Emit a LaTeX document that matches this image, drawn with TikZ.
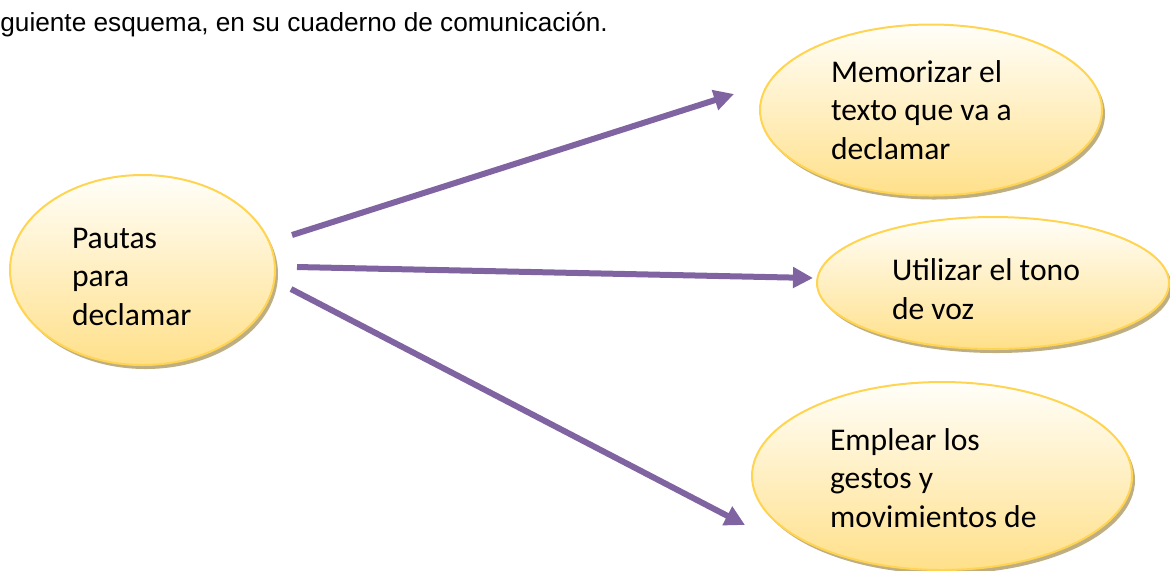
\documentclass[tikz,border=0pt]{standalone}
\usepackage{fontspec}
\setmainfont{Carlito}
\newfontfamily\headfont{Liberation Sans}
\usetikzlibrary{arrows.meta,calc,shapes.geometric,shadows}
\definecolor{bubbleborder}{HTML}{FFD451}
\definecolor{bubblebottom}{HTML}{FFE08A}
\definecolor{bubbletop}{HTML}{FFFEF9}
\definecolor{bubbleshadow}{HTML}{BFAE82}
\definecolor{arrowpurple}{HTML}{8064A2}
\tikzset{
  bubble/.style={ellipse, draw=bubbleborder, line width=1pt, top color=bubbletop, bottom color=bubblebottom,
    drop shadow={shadow xshift=1.5pt, shadow yshift=-2pt, fill=bubbleshadow, opacity=1},
    align=flush left, inner sep=0pt, text height=17pt, font=\fontsize{15.8pt}{19.3pt}\selectfont},
  header/.style={anchor=base west, inner sep=0pt, font=\headfont\fontsize{13.1pt}{15pt}\selectfont},
  arrow/.style={-{Triangle[length=10pt, width=10pt]}, line width=3pt, draw=arrowpurple},
}

\begin{document}
\begin{tikzpicture}[x=0.5pt, y=-0.5pt]
  \useasboundingbox (0,0) rectangle (1170,570);

  % Header
  \node[header] (intro) at (0,31) {guiente esquema, en su cuaderno de comunicación.};

  % Bubbles
  \node[bubble, minimum width=132.5pt, minimum height=95pt, text width=70.5pt] (pautas) at (142.5,270) {Pautas\\para\\declamar};
  \node[bubble, minimum width=171pt, minimum height=85.5pt, text width=100pt, text height=11pt] (memorizar) at (931,110) {Memorizar el\\texto que va a\\declamar};
  \node[bubble, minimum width=176pt, minimum height=66pt, text width=101pt] (tono) at (993,283) {Utilizar el tono\\de voz};
  \node[bubble, minimum width=190pt, minimum height=94pt, text width=112pt, text height=13pt] (gestos) at (942,476) {Emplear los\\gestos y\\movimientos de};

  % Arrows
  \draw[arrow] ($(pautas.east)+(16,-35)$) -- ($(memorizar.west)+(-25,-16)$);
  \draw[arrow] ($(pautas.east)+(21,-3)$) -- ($(tono.west)+(-3,-5)$);
  \draw[arrow] ($(pautas.east)+(15,19)$) -- ($(gestos.west)+(-6,49)$);
\end{tikzpicture}
\end{document}
